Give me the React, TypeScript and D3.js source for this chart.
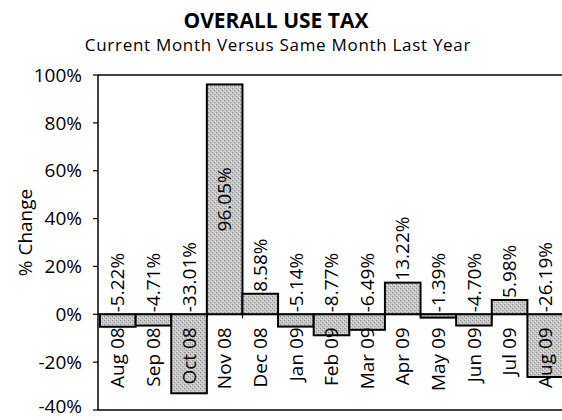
import * as d3 from "d3";

const W = 562;
const H = 420;
const MARGIN = { top: 75, right: -1, bottom: 10, left: 98 };

const months = ["Aug 08", "Sep 08", "Oct 08", "Nov 08", "Dec 08", "Jan 09", "Feb 09", "Mar 09", "Apr 09", "May 09", "Jun 09", "Jul 09", "Aug 09"];
const changes = [-5.22, -4.71, -33.01, 96.05, 8.58, -5.14, -8.77, -6.49, 13.22, -1.39, -4.7, 5.98, -26.19];
const yTicks = [-40, -20, 0, 20, 40, 60, 80, 100];

const FONT = "'Open Sans', sans-serif";

export default function App() {
    // bounds = plot area
    const x0 = MARGIN.left;
    const x1 = W - MARGIN.right;
    const yTop = MARGIN.top;
    const yBottom = H - MARGIN.bottom;

    const xScale = d3.scaleBand<string>().domain(months).range([x0 + 2, x1]).padding(0);
    const yScale = d3.scaleLinear().domain([-40, 100]).range([yBottom, yTop]);
    const zero = yScale(0);
    const labelLen = 62; // rough rotated label length

    const bars = changes.map((v, i) => {
        const bx = xScale(months[i])!;
        const bw = xScale.bandwidth();
        const top = yScale(Math.max(v, 0));
        const bottom = yScale(Math.min(v, 0));
        const cx = bx + bw / 2;
        // value label sits above the zero line / bar top, or inside when it doesn't fit
        let ly = v > 0 ? top - 2 : zero - 2;
        let anchor = "start";
        if (ly - labelLen < yTop) {
            ly = (top + bottom) / 2;
            anchor = "middle";
        }
        const txt = v.toFixed(2) + "%";
        return (
            <g key={months[i]}>
                <rect x={bx} y={top} width={bw} height={bottom - top} fill="url(#stipple)" stroke="#000" strokeWidth={2} />
                <text
                    transform={`translate(${cx},${ly}) rotate(-90)`}
                    dy="0.35em"
                    textAnchor={anchor}
                    fontSize={19}
                    fontFamily={FONT}
                    fill="#000"
                >
                    {txt}
                </text>
            </g>
        );
    });

    const catLabels = months.map((m) => (
        <text
            key={m}
            transform={`translate(${xScale(m)! + xScale.bandwidth() / 2},${zero + 13}) rotate(-90)`}
            dy="0.35em"
            textAnchor="end"
            fontSize={19}
            fontFamily={FONT}
            fill="#000"
        >
            {m}
        </text>
    ));

    const bounds = [...months.map((m) => xScale(m)!), x1];

    return (
        <svg width={W} height={H} style={{ position: "absolute", left: 0, top: 0, background: "#fff" }}>
            <defs>
                {/* grainy grey fill like the scanned bars */}
                <pattern id="stipple" width={4} height={4} patternUnits="userSpaceOnUse">
                    <rect width={4} height={4} fill="#c6c6c6" />
                    <rect x={0} y={0} width={1} height={1} fill="#8a8a8a" />
                    <rect x={2} y={2} width={1} height={1} fill="#8a8a8a" />
                    <rect x={3} y={1} width={1} height={1} fill="#e6e6e6" />
                    <rect x={1} y={3} width={1} height={1} fill="#e6e6e6" />
                </pattern>
            </defs>
            <text x={276} y={28} textAnchor="middle" fontSize={21} fontWeight="bold" fontFamily={FONT}>
                OVERALL USE TAX
            </text>
            <text x={278} y={51} textAnchor="middle" fontSize={17} fontFamily={FONT} letterSpacing={0.7}>
                Current Month Versus Same Month Last Year
            </text>
            <text
                transform={`translate(25,${(yTop + yBottom) / 2 - 10}) rotate(-90)`}
                dy="0.35em"
                textAnchor="middle"
                fontSize={19}
                fontFamily={FONT}
            >
                % Change
            </text>

            {/* frame lines */}
            <line x1={x0} x2={x1} y1={yTop} y2={yTop} stroke="#000" strokeWidth={1.5} />
            <line x1={x0} x2={x1} y1={yBottom} y2={yBottom} stroke="#000" strokeWidth={1.5} />

            {/* y axis */}
            <line x1={x0} x2={x0} y1={yTop} y2={yBottom} stroke="#000" strokeWidth={1.5} />
            {yTicks.map((t) => (
                <g key={t}>
                    <line x1={x0 - 5} x2={x0} y1={yScale(t)} y2={yScale(t)} stroke="#000" strokeWidth={1.2} />
                    <text x={82} y={Math.min(yScale(t), 406)} dy="0.35em" textAnchor="end" fontSize={19} fontFamily={FONT}>
                        {t}%
                    </text>
                </g>
            ))}

            {bars}

            {/* category axis on zero */}
            <line x1={x0} x2={x1} y1={zero} y2={zero} stroke="#000" strokeWidth={1.5} />
            {bounds.map((b, i) => (
                <line key={i} x1={b} x2={b} y1={zero} y2={zero + 4} stroke="#000" strokeWidth={1} />
            ))}
            {catLabels}
        </svg>
    );
}
